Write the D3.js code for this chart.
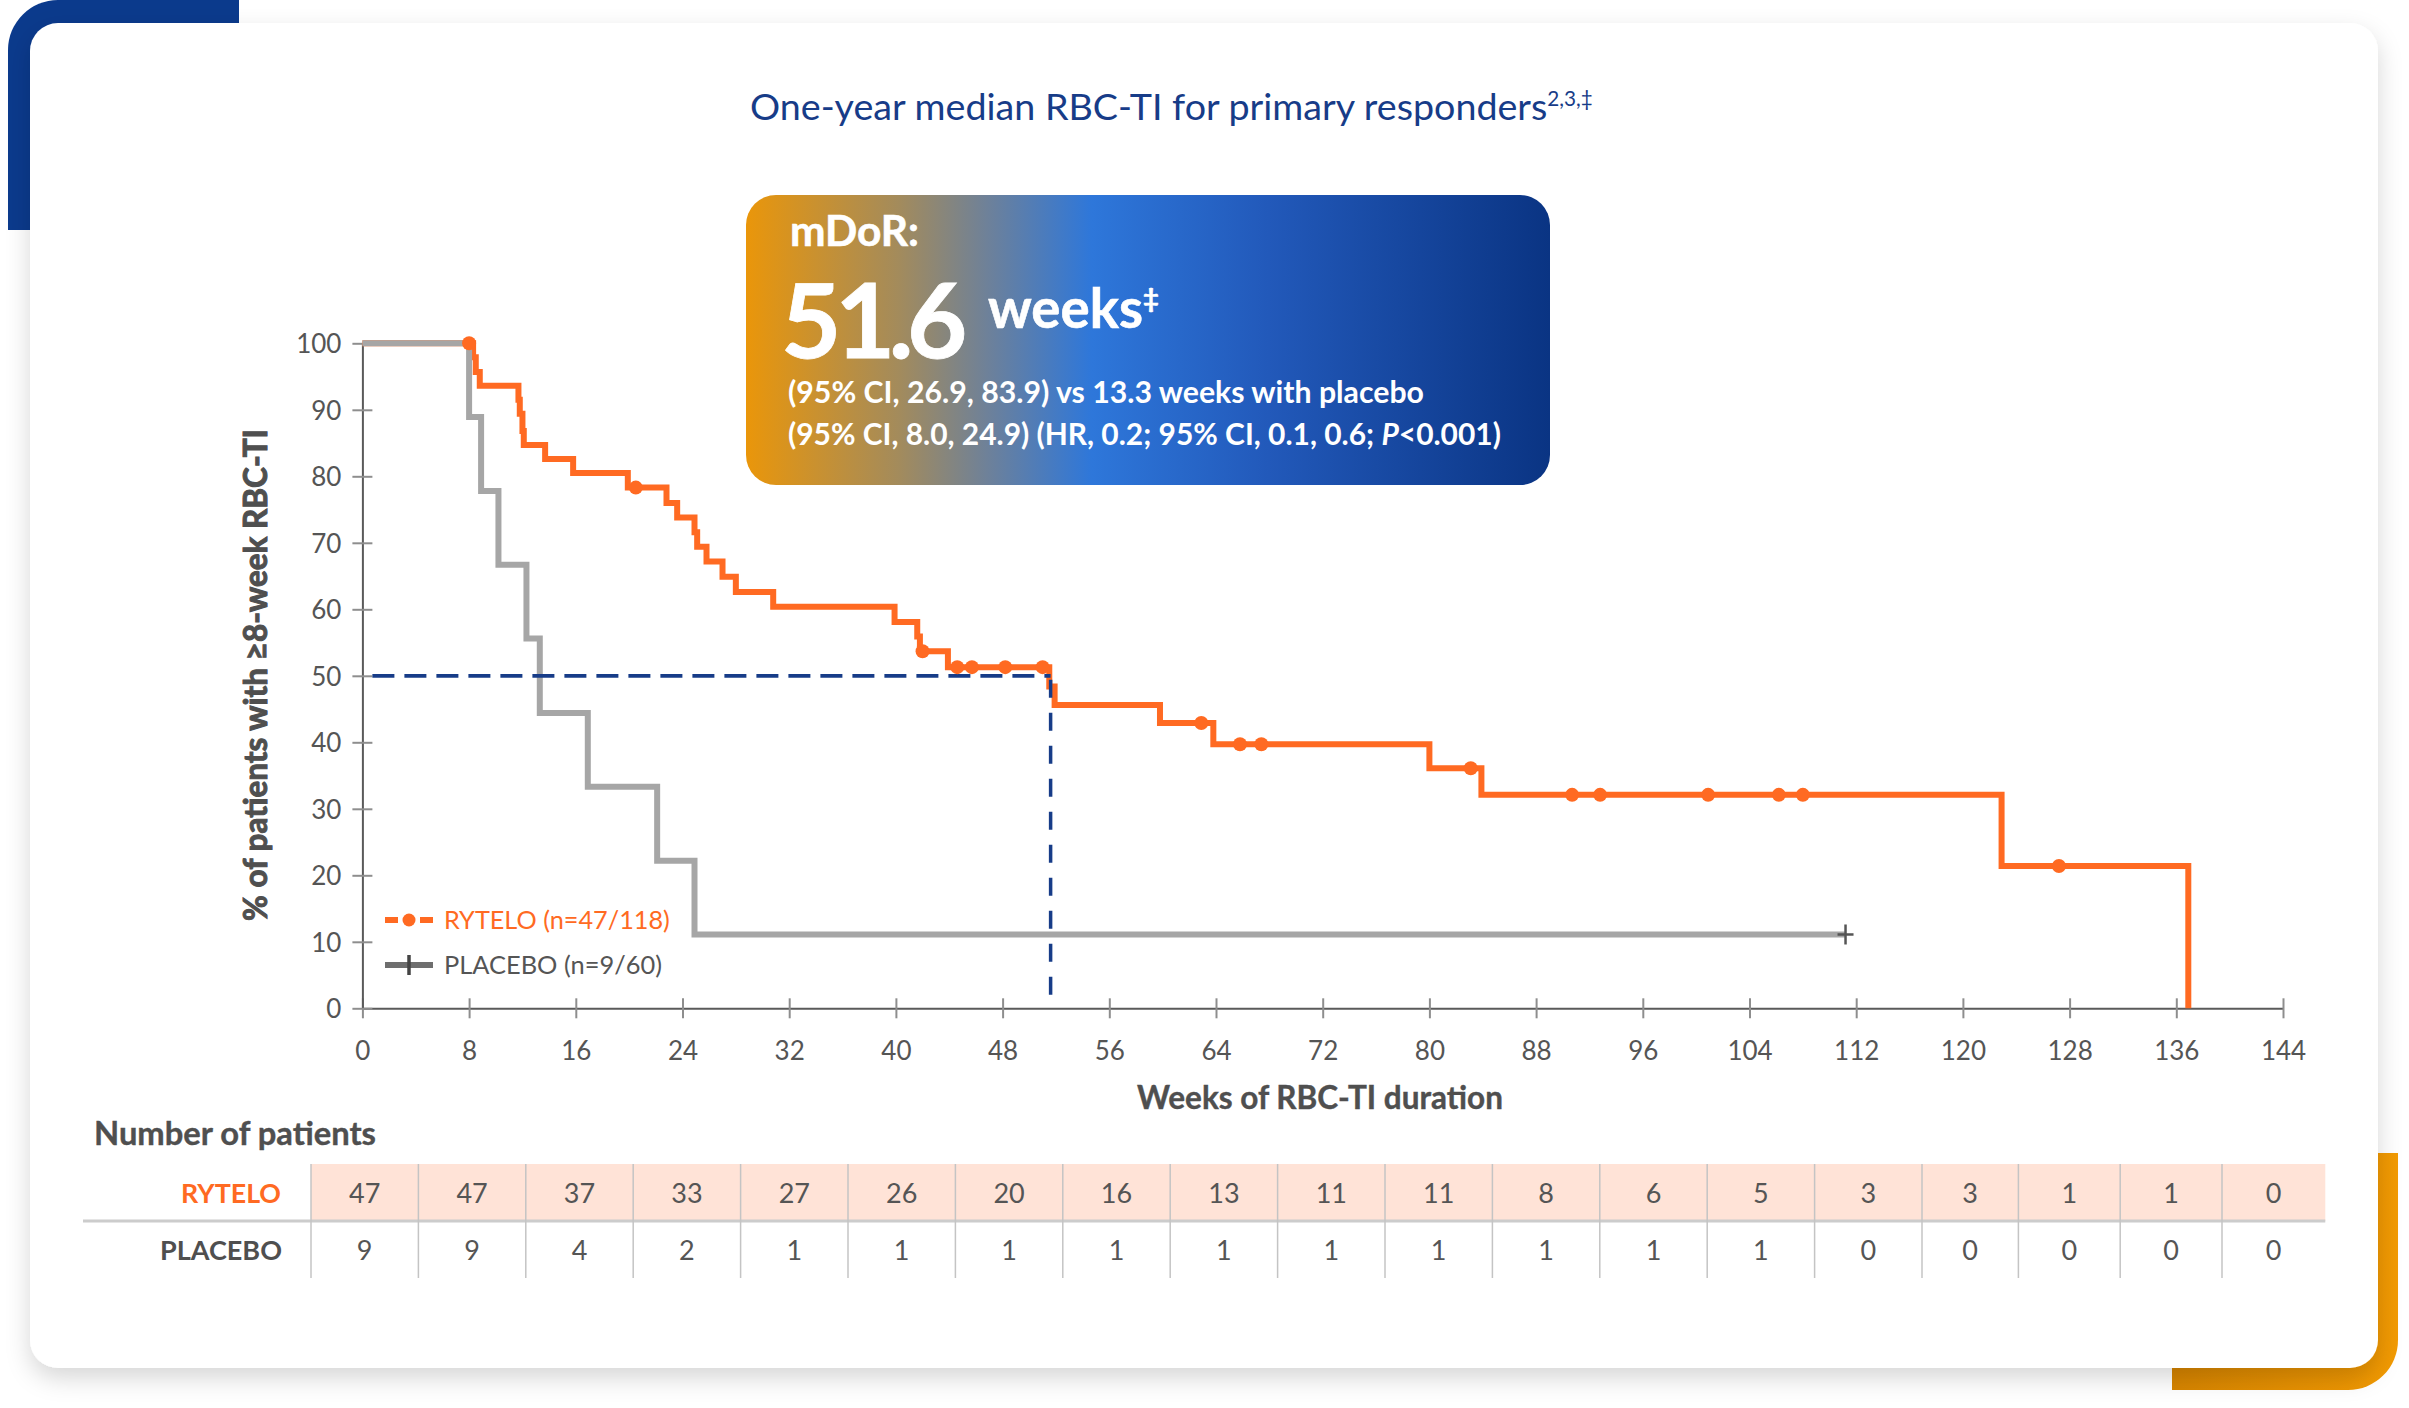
<!DOCTYPE html>
<html><head><meta charset="utf-8">
<script src="https://cdn.jsdelivr.net/npm/d3@7"></script>
<style>
body{margin:0;background:#fff}
svg{display:block}
text{font-family:Lato,"Open Sans",sans-serif}
</style>
</head><body>
<svg id="chart" width="2409" height="1408"></svg>
<script>
// ---------- DATA ----------
const xTickValues = [0,8,16,24,32,40,48,56,64,72,80,88,96,104,112,120,128,136,144];
const yTickValues = [0,10,20,30,40,50,60,70,80,90,100];

// Kaplan-Meier step points [week, % still in RBC-TI]
const ryteloSteps = [[0,100],[8.3,97.9],[8.5,95.7],[8.8,93.6],[11.7,91.5],[11.8,89.4],[12.0,86.8],[12.1,84.7],
  [13.7,82.6],[15.8,80.5],[19.9,78.3],[22.8,76.0],[23.6,73.8],[24.9,71.6],[25.1,69.4],[25.8,67.2],[27.0,64.9],
  [28.0,62.6],[30.8,60.4],[39.9,58.1],[41.6,55.9],[41.8,53.7],[43.9,51.3],[51.5,48.4],[51.9,45.6],[59.8,42.9],
  [63.8,39.7],[80.0,36.1],[83.9,32.1],[122.9,21.4],[136.9,0]];
const ryteloCensored = [[8.0,100],[20.5,78.3],[42.0,53.7],[44.6,51.3],[45.7,51.3],[48.2,51.3],[51.0,51.3],
  [62.9,42.9],[65.8,39.7],[67.4,39.7],[83.1,36.1],[90.7,32.1],[92.8,32.1],[100.9,32.1],[106.2,32.1],[108.0,32.1],[127.2,21.4]];
const placeboSteps = [[0,100],[8.0,88.9],[8.9,77.8],[10.2,66.7],[12.3,55.6],[13.3,44.4],[16.9,33.3],[22.1,22.2],[24.9,11.1],[111.2,11.1]];
const placeboCensored = [[111.2,11.1]];
const medianWeeks = 51.6;
const medianPct = 50;

const riskWeeks = xTickValues;
const riskRytelo = [47,47,37,33,27,26,20,16,13,11,11,8,6,5,3,3,1,1,0];
const riskPlacebo = [9,9,4,2,1,1,1,1,1,1,1,1,1,1,0,0,0,0,0];

const seriesNames = ["RYTELO (n=47/118)","PLACEBO (n=9/60)"];
const rowLabels = ["RYTELO","PLACEBO"];

// ---------- STYLE ----------
const ORANGE = "#FF6A22", GRAY = "#A6A6A6", NAVY = "#173C88", TXT = "#4F4F4F";

const svg = d3.select("#chart");
const defs = svg.append("defs");

function fitWidth(sel, w){
  const cur = sel.node().getComputedTextLength();
  const fs = parseFloat(sel.style("font-size"));
  sel.style("font-size", (fs*w/cur)+"px");
  return sel;
}

// gradients & filters
const gBox = defs.append("linearGradient").attr("id","boxGrad").attr("x1","0").attr("x2","1").attr("y1","0").attr("y2","0");
[["0%","#EA960A"],["19%","#A38B5C"],["30%","#6E8199"],["43%","#2E77DA"],["65%","#2259BA"],["100%","#0A3483"]]
  .forEach(s=>gBox.append("stop").attr("offset",s[0]).attr("stop-color",s[1]));
const gOr = defs.append("linearGradient").attr("id","orGrad").attr("x1","0").attr("x2","1");
gOr.append("stop").attr("offset","0%").attr("stop-color","#D68400");
gOr.append("stop").attr("offset","100%").attr("stop-color","#F29A02");
const f = defs.append("filter").attr("id","shadow").attr("x","-5%").attr("y","-5%").attr("width","110%").attr("height","115%");
f.append("feDropShadow").attr("dx",0).attr("dy",10).attr("stdDeviation",12).attr("flood-color","#000").attr("flood-opacity",0.16);

// decorative corners
svg.append("path").attr("d","M8,230V50A50,50 0 0 1 58,0H239V230Z").attr("fill","#0B3A8C");
svg.append("path").attr("d","M2172,1390H2348A50,50 0 0 0 2398,1340V1153H2172Z").attr("fill","url(#orGrad)");
// card
svg.append("rect").attr("x",30).attr("y",23).attr("width",2348).attr("height",1345).attr("rx",28)
  .attr("fill","#fff").attr("filter","url(#shadow)");

// title
const title = svg.append("text").attr("x",750).attr("y",120).attr("fill",NAVY).style("font-size","37px");
title.append("tspan").text("One-year median RBC-TI for primary responders");
title.append("tspan").attr("dy",-14).style("font-size","0.55em").text("2,3,‡");
fitWidth(title, 843);

// ---------- SCALES ----------
const x = d3.scaleLinear().domain([0,144]).range([362.4,2283]);
const y = d3.scaleLinear().domain([0,100]).range([1008.3,343.3]);

// axes
const xAxis = svg.append("g").attr("transform",`translate(0,${y(0)})`)
  .call(d3.axisBottom(x).tickValues(xTickValues).tickSizeOuter(0));
xAxis.select(".domain").attr("stroke","#5A5A5A").attr("stroke-width",2);
xAxis.selectAll(".tick line").attr("y1",-10).attr("y2",10).attr("stroke","#8E8E8E").attr("stroke-width",2);
xAxis.selectAll(".tick text").attr("y",51.7).attr("dy",0).attr("fill","#555").style("font-size","26px").attr("font-family",null);

const yAxis = svg.append("g").attr("transform",`translate(${x(0)},0)`)
  .call(d3.axisLeft(y).tickValues(yTickValues).tickSizeOuter(0));
yAxis.select(".domain").attr("stroke","#5A5A5A").attr("stroke-width",2);
yAxis.selectAll(".tick line").attr("x1",-10).attr("x2",10).attr("stroke","#8E8E8E").attr("stroke-width",2);
yAxis.selectAll(".tick text").attr("x",-21).attr("dy","0.36em").attr("fill","#555").style("font-size","26px").attr("font-family",null);

// axis titles
const yTitle = svg.append("text").attr("transform","translate(267,675) rotate(-90)").attr("text-anchor","middle")
  .attr("fill",TXT).attr("stroke",TXT).attr("stroke-width",1).attr("font-weight",700).style("font-size","32px")
  .text("% of patients with ≥8-week RBC-TI");
fitWidth(yTitle, 492);
const xTitle = svg.append("text").attr("x",1320).attr("y",1109).attr("text-anchor","middle")
  .attr("fill",TXT).attr("stroke",TXT).attr("stroke-width",0.4).attr("font-weight",700).style("font-size","33px").text("Weeks of RBC-TI duration");
fitWidth(xTitle, 366);

// ---------- CURVES ----------
const line = d3.line().x(d=>x(d[0])).y(d=>y(d[1])).curve(d3.curveStepAfter);
svg.append("path").datum(ryteloSteps).attr("d",line).attr("fill","none").attr("stroke",ORANGE).attr("stroke-width",6);
svg.append("path").datum(placeboSteps).attr("d",line).attr("fill","none").attr("stroke",GRAY).attr("stroke-width",6);

// median dashed lines
svg.append("line").attr("x1",x(0)+10).attr("x2",x(medianWeeks)).attr("y1",y(medianPct)).attr("y2",y(medianPct))
  .attr("stroke",NAVY).attr("stroke-width",3.8).attr("stroke-dasharray","22,10");
svg.append("line").attr("x1",x(medianWeeks)).attr("x2",x(medianWeeks)).attr("y1",y(medianPct)+4).attr("y2",y(0))
  .attr("stroke",NAVY).attr("stroke-width",3.5).attr("stroke-dasharray","18,15");

// censor marks
svg.append("g").selectAll("circle").data(ryteloCensored).join("circle")
  .attr("cx",d=>x(d[0])).attr("cy",d=>y(d[1])).attr("r",7).attr("fill",ORANGE);
const pc = svg.append("g").selectAll("g").data(placeboCensored).join("g")
  .attr("transform",d=>`translate(${x(d[0])},${y(d[1])})`);
pc.append("line").attr("x1",0).attr("x2",0).attr("y1",-10).attr("y2",10).attr("stroke","#555").attr("stroke-width",2.5);
pc.append("line").attr("x1",-8).attr("x2",8).attr("y1",0).attr("y2",0).attr("stroke","#555").attr("stroke-width",2.5);

// ---------- LEGEND ----------
const lg = svg.append("g");
lg.append("line").attr("x1",385).attr("x2",398).attr("y1",920).attr("y2",920).attr("stroke",ORANGE).attr("stroke-width",6);
lg.append("line").attr("x1",420).attr("x2",433).attr("y1",920).attr("y2",920).attr("stroke",ORANGE).attr("stroke-width",6);
lg.append("circle").attr("cx",409).attr("cy",920).attr("r",6.5).attr("fill",ORANGE);
fitWidth(lg.append("text").attr("x",444).attr("y",920).attr("dy","0.36em").attr("fill",ORANGE).style("font-size","28px").text(seriesNames[0]),226);
lg.append("line").attr("x1",385).attr("x2",433).attr("y1",965).attr("y2",965).attr("stroke","#6E6E6E").attr("stroke-width",6);
lg.append("line").attr("x1",409).attr("x2",409).attr("y1",955).attr("y2",975).attr("stroke","#444").attr("stroke-width",3.5);
fitWidth(lg.append("text").attr("x",444).attr("y",965).attr("dy","0.36em").attr("fill","#555").style("font-size","28px").text(seriesNames[1]),218);

// ---------- CALLOUT BOX ----------
svg.append("rect").attr("x",746).attr("y",195).attr("width",804).attr("height",290).attr("rx",30).attr("fill","url(#boxGrad)");
fitWidth(svg.append("text").attr("x",790).attr("y",246).attr("fill","#fff").attr("stroke","#fff").attr("stroke-width",0.6)
  .attr("font-weight",700).style("font-size","44px").text("mDoR:"),129);
const big = svg.append("text").attr("x",781).attr("y",358).attr("fill","#fff").attr("stroke","#fff").attr("stroke-width",0.8)
  .attr("font-weight",700).style("font-size","104px").text("51.6");
{ const w = big.node().getComputedTextLength(); big.attr("letter-spacing", ((180 - w)/4)+"px"); }
const wk = svg.append("text").attr("x",988).attr("y",328).attr("fill","#fff").attr("stroke","#fff").attr("stroke-width",0.6)
  .attr("font-weight",700).style("font-size","52px");
wk.append("tspan").text("weeks");
fitWidth(wk,155);
wk.append("tspan").attr("dy",-20).style("font-size","0.5em").text("‡");
fitWidth(svg.append("text").attr("x",788).attr("y",403).attr("fill","#fff").attr("font-weight",700).style("font-size","29px")
  .text("(95% CI, 26.9, 83.9) vs 13.3 weeks with placebo"),636);
const l2 = svg.append("text").attr("x",788).attr("y",445).attr("fill","#fff").attr("font-weight",700).style("font-size","29px");
l2.append("tspan").text("(95% CI, 8.0, 24.9) (HR, 0.2; 95% CI, 0.1, 0.6; ");
l2.append("tspan").attr("font-style","italic").text("P");
l2.append("tspan").text("<0.001)");
fitWidth(l2,713);

// ---------- NUMBER AT RISK TABLE ----------
fitWidth(svg.append("text").attr("x",94).attr("y",1145).attr("fill",TXT).attr("stroke",TXT).attr("stroke-width",0.4)
  .attr("font-weight",700).style("font-size","30px").text("Number of patients"),282);
const colW = [107.4,107.4,107.4,107.4,107.4,107.4,107.4,107.4,107.4,107.4,107.4,107.4,107.4,107.4,107.4,96.4,101.8,101.8,103.3];
const edges = [311]; colW.forEach((w,i)=>edges.push(edges[i]+w));
const tableL = edges[0], tableR = edges[edges.length-1];
svg.append("rect").attr("x",tableL).attr("y",1164).attr("width",tableR-tableL).attr("height",57).attr("fill","#FFE3D7");
svg.append("line").attr("x1",83).attr("x2",tableR).attr("y1",1221).attr("y2",1221).attr("stroke","#CCCCCC").attr("stroke-width",3);
svg.append("g").selectAll("line").data(edges.slice(0,-1)).join("line")
  .attr("x1",d=>d).attr("x2",d=>d).attr("y1",1164).attr("y2",1278).attr("stroke","#C4C4C4").attr("stroke-width",1.5);
fitWidth(svg.append("text").attr("x",281).attr("y",1203).attr("text-anchor","end").attr("fill",ORANGE).attr("font-weight",700).style("font-size","30px").text(rowLabels[0]),100);
fitWidth(svg.append("text").attr("x",282).attr("y",1260).attr("text-anchor","end").attr("fill",TXT).attr("font-weight",700).style("font-size","30px").text(rowLabels[1]),122);
const cx = i => (edges[i]+edges[i+1])/2;
svg.append("g").selectAll("text").data(riskRytelo).join("text")
  .attr("x",(d,i)=>cx(i)).attr("y",1203).attr("text-anchor","middle").attr("fill","#555").style("font-size","27px").text(d=>d);
svg.append("g").selectAll("text").data(riskPlacebo).join("text")
  .attr("x",(d,i)=>cx(i)).attr("y",1260).attr("text-anchor","middle").attr("fill","#555").style("font-size","27px").text(d=>d);
</script>
</body></html>
